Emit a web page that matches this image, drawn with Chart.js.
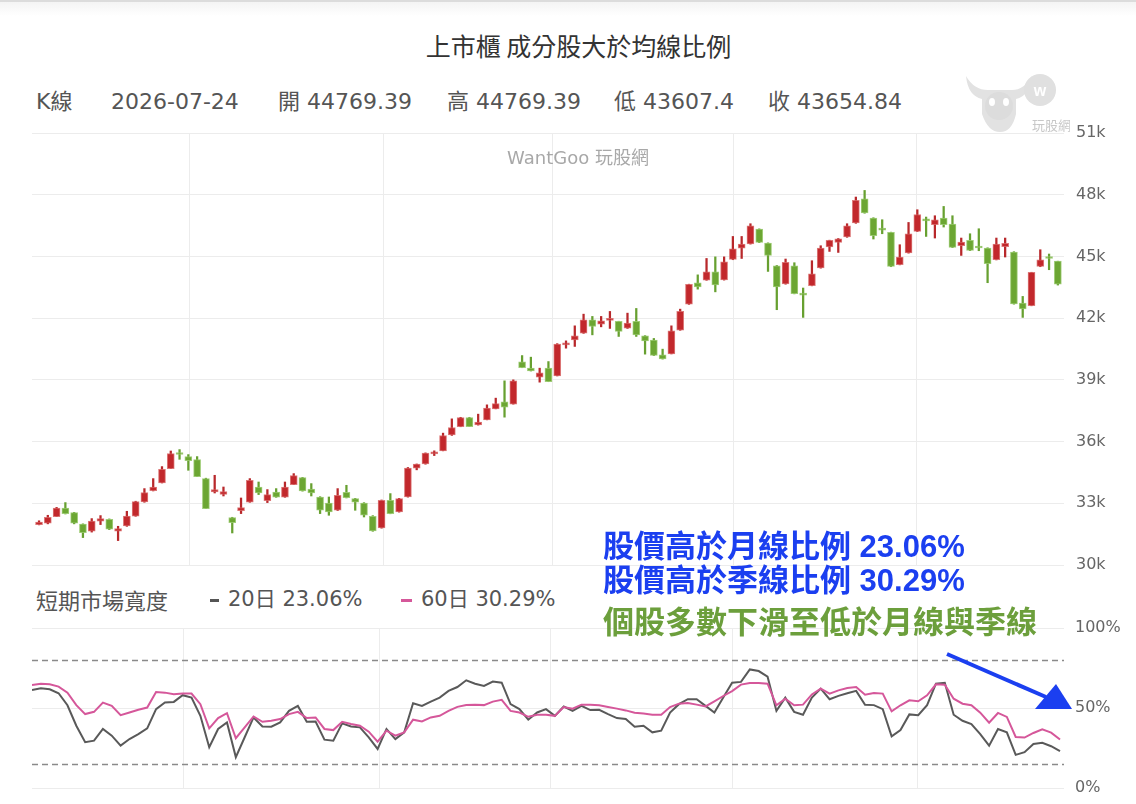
<!DOCTYPE html>
<html><head><meta charset="utf-8">
<script src="https://cdn.jsdelivr.net/npm/chart.js@4.4.1/dist/chart.umd.min.js"></script>
<style>
html,body{margin:0;padding:0;background:#fff;}
body{width:1136px;height:804px;position:relative;overflow:hidden;font-family:'DejaVu Sans','Noto Sans CJK TC',sans-serif;}
.t{position:absolute;white-space:nowrap;line-height:1;}
.h{font-size:22px;color:#555;top:91px;}
.cjk{font-family:'Noto Sans CJK TC',sans-serif;}
.ann{font-family:'Liberation Sans','Noto Sans CJK TC',sans-serif;font-weight:bold;}
#c1{position:absolute;left:0;top:118px;}
#c2{position:absolute;left:0;top:618px;}
</style></head>
<body>
<canvas id="c1" width="1136" height="460"></canvas>
<canvas id="c2" width="1136" height="186"></canvas>
<div style="position:absolute;left:0;top:0;width:1136px;height:2px;background:#dcdcdc"></div>
<div style="position:absolute;left:0;top:2px;width:1136px;height:14px;background:linear-gradient(#f4f4f4,#fff)"></div>
<div class="t cjk" style="left:0;width:1157px;text-align:center;top:33px;font-size:25px;color:#333;">上市櫃 成分股大於均線比例</div>
<div class="t h" style="left:36px;">K線</div>
<div class="t h" style="left:111px;">2026-07-24</div>
<div class="t h" style="left:278px;">開 44769.39</div>
<div class="t h" style="left:447px;">高 44769.39</div>
<div class="t h" style="left:614px;">低 43607.4</div>
<div class="t h" style="left:768px;">收 43654.84</div>
<div class="t" style="left:0;width:1156px;text-align:center;top:149px;font-size:18px;color:#a8a8a8;">WantGoo 玩股網</div>
<svg style="position:absolute;left:960px;top:66px" width="110" height="70">
  <path d="M6 10 Q8 30 22 33 L22 48 Q28 66 40 66 Q52 66 56 48 L56 33 Q70 30 72 10 Q64 24 52 24 L28 24 Q14 24 6 10Z" fill="#e2e2e2"/>
  <circle cx="39" cy="40" r="14" fill="#dcdcdc"/>
  <ellipse cx="32" cy="36" rx="3" ry="4" fill="#fff"/>
  <ellipse cx="46" cy="36" rx="3" ry="4" fill="#fff"/>
  <circle cx="80" cy="24" r="16" fill="#e0e0e0"/>
  <text x="80" y="30" text-anchor="middle" font-size="16" font-weight="bold" fill="#fff" font-family="Liberation Sans">w</text>
  <text x="72" y="64" font-size="13" fill="#c8c8c8" font-family="Noto Sans CJK TC">玩股網</text>
</svg>
<div class="t cjk" style="left:36px;top:588px;font-size:22px;color:#555;">短期市場寬度</div>
<div style="position:absolute;left:210px;top:599px;width:9px;height:3px;background:#555"></div>
<div class="t" style="left:228px;top:589px;font-size:21px;color:#555;">20日 23.06%</div>
<div style="position:absolute;left:401px;top:599px;width:11px;height:3px;background:#d5579a"></div>
<div class="t" style="left:421px;top:589px;font-size:21px;color:#555;">60日 30.29%</div>
<div class="t ann" style="left:603px;top:531px;font-size:31px;color:#1b3ff0;">股價高於月線比例 23.06%</div>
<div class="t ann" style="left:603px;top:565px;font-size:31px;color:#1b3ff0;">股價高於季線比例 30.29%</div>
<div class="t ann" style="left:603px;top:607px;font-size:31px;color:#6c9f3c;">個股多數下滑至低於月線與季線</div>
<svg style="position:absolute;left:0;top:0;pointer-events:none" width="1136" height="804">
  <line x1="947" y1="654" x2="1046" y2="697" stroke="#1b3ff0" stroke-width="4"/>
  <polygon points="1072,709 1035,709 1056,684" fill="#1b3ff0"/>
</svg>
<script>
// ---- data ----
const opens = [31965,32028,32354,32772,32548,31994,31639,32125,32222,31639,
31897,32368,33063,33617,33987,34686,35400,35270,35124,34200,
33549,33437,32305,32645,33049,33792,33131,33549,33292,33909,
34249,33695,33306,33015,32660,33535,33228,33015,32368,31800,
33146,32577,33306,34710,34918,35400,35549,36327,36730,37168,
36813,37056,37590,37930,37819,39875,39568,39131,39568,39194,
40700,40945,41271,41917,41708,41890,41840,41514,41840,41140,
40930,40216,40265,41417,42680,43716,43847,44250,43861,44853,
45402,45603,46332,45651,44548,43659,44548,43160,43576,44436,
45457,45680,45943,46623,47804,46866,46320,46166,44597,45165,
46215,46770,46541,46866,46575,45520,45778,45460,45408,44840,
45471,45214,42735,42604,44514,44950,44769.39];
const highs = [32150,32417,32800,33034,32560,32000,32256,32402,32240,31882,
32611,33100,33714,34200,34784,35542,35610,35367,35270,34220,
34361,33792,32320,33258,34200,34035,33666,33714,34035,34443,
34260,33957,33320,33306,33714,33875,33240,33030,32400,33160,
33471,33240,34740,34910,35450,35550,36410,37104,37180,37180,
37333,37785,38111,38951,39000,40181,40103,39568,39889,40760,
40895,41626,42194,42083,42083,42326,41850,42243,42471,41150,
41013,40493,41626,42437,43650,44104,44901,44979,44979,45971,
45971,46590,46340,45660,44560,44874,44694,43464,44791,45520,
45790,45870,46590,47887,48208,46880,46784,46180,45569,46652,
47270,46915,46978,47430,46978,45894,46103,46346,45420,45894,
45894,45230,43056,44230,45326,45117,44769.39];
const lows = [31950,32000,32354,32480,32000,31333,31600,31965,31720,31187,
31880,32368,33050,33600,33987,34686,35138,34604,34298,32742,
33500,33355,31557,32499,33049,33423,33034,33290,33292,33909,
33590,33355,32499,32417,32650,33260,32660,32334,31640,31790,
32490,32570,33300,34626,34900,35320,35549,36300,36720,36730,
36800,37056,37590,37187,37819,39590,39430,38888,38910,39190,
40540,40625,41260,41188,41577,41500,41110,41500,41110,40250,
40180,40010,40260,41410,42670,43410,43840,43278,43850,44840,
44901,45600,45670,44271,42410,43650,43180,42036,43570,44430,
45243,45194,45930,46610,47100,45846,46103,44500,44590,45160,
46210,45972,45894,46429,45430,45049,45280,45277,43722,44830,
44971,42680,42036,42600,44500,44354,43607.4];
const closes = [32091,32320,32772,32500,32028,31576,32140,32256,31736,31770,
32383,33083,33520,33792,34652,35415,35370,35075,34298,32742,
33666,33569,32062,32791,34118,33500,33423,33292,33792,34346,
33598,33500,32660,32577,33389,33277,33049,32417,31654,33146,
32499,33228,34716,34903,35438,35450,36293,36682,37168,36730,
36944,37625,37848,37673,38951,39598,39437,39340,38917,40735,
40760,41140,41917,41595,41870,41930,41354,41757,41188,40897,
40187,40022,41383,42326,43638,43521,44250,43618,44736,45368,
45596,46492,45680,45049,43513,44708,43187,43120,44159,45408,
45778,45860,46492,47722,47109,46006,46280,44514,44971,46103,
47040,46730,46784,46541,45437,45700,45292,45410,44645,45603,
45632,42687,42443,44222,44840,44900,43654.84];
const above20 = [61.3,62.3,61.7,59.2,51.7,38.9,28.6,29.6,36.9,32.7,
26.5,30.6,33.7,37.3,49.3,53.4,53.8,58.0,56.5,45.1,
25.5,36.9,41.0,19.3,31.7,44.1,38.5,38.3,41.0,48.2,
51.3,41.4,41.6,30.2,29.6,40.4,38.5,37.9,31.7,24.4,
36.9,30.6,34.8,53.0,51.3,54.0,56.5,60.7,63.1,67.3,
65.2,63.8,66.5,65.8,52.4,49.3,42.7,47.2,49.3,45.1,
50.9,48.2,51.3,48.7,48.9,46.2,43.7,43.1,38.3,38.9,
34.8,35.8,47.2,52.4,55.5,55.5,51.3,47.2,56.5,65.8,
66.3,74.1,73.1,69.6,48.2,56.5,47.6,45.8,56.5,62.1,
55.5,57.6,59.2,60.7,52.0,51.8,49.3,32.3,36.2,46.0,
45.5,51.8,65.2,65.8,45.8,42.0,40.0,33.7,26.5,36.9,
34.8,20.7,22.4,27.5,28.2,26.1,23.06];
const above60 = [64.4,65.2,64.8,63.4,59.6,51.8,46.2,47.6,53.4,51.3,
45.5,47.2,48.9,50.3,60.0,59.6,58.6,59.0,59.0,52.4,
37.3,43.7,46.8,31.1,37.9,44.7,41.4,42.0,43.1,46.2,
47.6,43.7,44.1,36.9,36.2,41.4,40.0,38.9,35.2,29.0,
35.8,32.7,34.8,42.7,41.6,44.1,45.1,48.2,50.7,51.8,
52.0,51.8,54.0,55.1,48.2,47.2,44.5,45.8,45.8,45.1,
50.6,49.6,52.1,52.1,51.7,50.6,49.6,48.5,47.1,46.5,
45.8,45.8,50.6,52.7,53.1,52.1,51.0,54.2,57.5,60.6,
64.6,65.6,65.6,65.2,51.7,55.8,51.7,52.1,58.5,62.1,
59.0,61.0,62.5,63.1,58.3,59.4,59.0,47.9,51.7,54.8,
54.2,57.9,64.8,64.6,55.8,52.7,51.7,47.1,40.8,46.9,
44.4,31.9,31.5,34.4,36.7,34.6,30.29];
// month boundaries (in trading-day index units) where vertical grid lines sit
const monthBreaks = [17.1, 39.25, 58.5, 79.1, 99.92];
const priceTicks = [30000,33000,36000,39000,42000,45000,48000,51000];
const pctTicks = [0,50,100];
const bandLines = [80, 15];

// ---- styles ----
const UP = '#c2282c', UP_B = 'rgba(214,96,96,0.85)', UP_W = '#b8282b';
const DN = '#6ca633', DN_B = 'rgba(150,200,105,0.9)', DN_W = '#67a030';
const GRID = '#ececec';
const TICKFONT = {family: "'DejaVu Sans',sans-serif", size: 16};
const fitY = s => { s.width = 72; s.paddingTop = 0; s.paddingBottom = 0; };
const fitX = s => { s.height = 0; s.paddingLeft = 0; s.paddingRight = 0; };

const isUp = opens.map((o,i) => closes[i] >= o);
const bodies = opens.map((o,i) => ({x:i, y:[o, closes[i]]}));
const wicks = lows.map((l,i) => ({x:i, y:[l, highs[i]]}));

new Chart(document.getElementById('c1'), {
  type: 'bar',
  data: { datasets: [
    { data: bodies, order: 1, barThickness: 7, minBarLength: 2, borderWidth: 1, borderSkipped: false,
      backgroundColor: isUp.map(u => u ? UP : DN), borderColor: isUp.map(u => u ? UP_B : DN_B) },
    { data: wicks, order: 2, barThickness: 1.6,
      backgroundColor: isUp.map(u => u ? UP_W : DN_W), borderWidth: 0 }
  ]},
  options: {
    responsive: false, animation: false, events: [],
    layout: { padding: { top: 15, left: 32, right: 0, bottom: 13 } },
    datasets: { bar: { grouped: false } },
    plugins: { legend: { display: false }, tooltip: { enabled: false } },
    scales: {
      x: { type: 'linear', min: -0.8, max: 116.7, offset: false,
           afterBuildTicks: s => { s.ticks = monthBreaks.map(v => ({value: v})); },
           afterFit: fitX,
           grid: { color: GRID, drawTicks: false, offset: false }, border: { display: false },
           ticks: { display: false } },
      y: { position: 'right', min: 30000, max: 51000,
           afterBuildTicks: s => { s.ticks = priceTicks.map(v => ({value: v})); },
           afterFit: fitY,
           grid: { color: GRID, drawTicks: false }, border: { display: false },
           ticks: { padding: 12, color: '#666', font: TICKFONT, callback: v => (v/1000) + 'k' } }
    }
  }
});

const bandPlugin = {
  id: 'bands',
  beforeDatasetsDraw(chart) {
    const {ctx, chartArea, scales} = chart;
    ctx.save();
    ctx.strokeStyle = '#8a8a8a'; ctx.lineWidth = 1.3; ctx.setLineDash([6, 4]);
    bandLines.forEach(v => {
      const y = Math.round(scales.y.getPixelForValue(v)) + 0.5;
      ctx.beginPath(); ctx.moveTo(chartArea.left, y); ctx.lineTo(chartArea.right, y); ctx.stroke();
    });
    ctx.restore();
  }
};

new Chart(document.getElementById('c2'), {
  type: 'line',
  data: { datasets: [
    { label: '20日', data: above20.map((v,i) => ({x:i, y:v})), borderColor: '#595959', borderWidth: 2, pointRadius: 0, order: 2, tension: 0 },
    { label: '60日', data: above60.map((v,i) => ({x:i, y:v})), borderColor: '#d5579a', borderWidth: 2, pointRadius: 0, order: 1, tension: 0 }
  ]},
  plugins: [bandPlugin],
  options: {
    responsive: false, animation: false, events: [],
    layout: { padding: { top: 10, left: 32, right: 0, bottom: 16 } },
    plugins: { legend: { display: false }, tooltip: { enabled: false } },
    scales: {
      x: { type: 'linear', min: 0, max: 116.45,
           afterBuildTicks: s => { s.ticks = monthBreaks.map(v => ({value: v})); },
           afterFit: fitX,
           grid: { color: GRID, drawTicks: false }, border: { display: false },
           ticks: { display: false } },
      y: { position: 'right', min: 0, max: 100,
           afterBuildTicks: s => { s.ticks = pctTicks.map(v => ({value: v})); },
           afterFit: fitY,
           grid: { color: GRID, drawTicks: false }, border: { display: false },
           ticks: { padding: 11, color: '#666', font: TICKFONT, callback: v => v + '%' } }
    }
  }
});
</script>
</body></html>
